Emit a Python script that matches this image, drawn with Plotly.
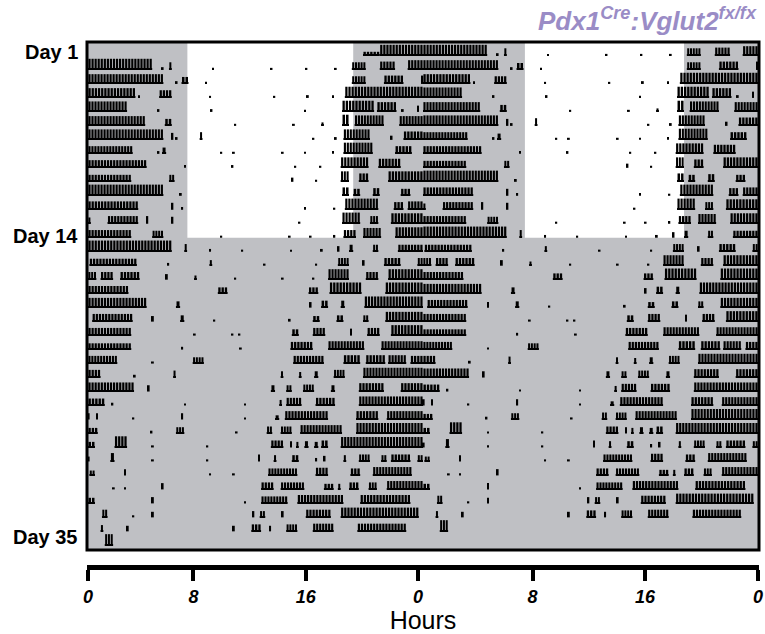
import plotly.graph_objects as go

# ---------------- data: activity bouts per day (start_h, end_h, relative height) ----------------
d01 = [(19.7,20.9,0.3),(20.9,24.0,0.8)]
d02 = [(0.0,4.6,0.8),(5.3,5.4,0.2),(5.8,6.0,0.55),(8.9,9.0,0.15),(13.1,13.2,0.15),(15.6,15.7,0.15),(17.7,17.8,0.15),(18.9,19.9,0.55),(20.9,22.0,0.6),(22.9,24.0,0.7)]
d03 = [(0.0,5.4,0.7),(6.3,6.4,0.2),(6.7,7.2,0.5),(8.4,8.5,0.15),(18.9,19.9,0.55),(21.2,22.6,0.6),(23.9,24.0,0.6)]
d04 = [(0.0,3.4,0.7),(3.6,3.7,0.2),(5.1,6.0,0.55),(8.7,8.8,0.15),(13.3,13.4,0.15),(15.7,15.8,0.2),(17.5,17.6,0.2),(18.4,24.0,0.8)]
d05 = [(0.0,2.8,0.75),(5.0,5.1,0.2),(8.8,8.9,0.2),(15.5,15.6,0.15),(18.2,20.5,0.8),(20.7,22.1,0.7),(22.5,22.6,0.2),(23.6,23.7,0.45)]
d06 = [(0.0,4.1,0.7),(5.5,6.0,0.5),(10.5,10.6,0.15),(14.7,14.8,0.15),(16.7,16.9,0.25),(18.2,18.7,0.8),(19.1,21.2,0.75),(22.3,24.0,0.7)]
d07 = [(0.0,5.4,0.75),(6.0,6.1,0.5),(6.3,6.4,0.2),(8.0,8.2,0.55),(16.1,16.2,0.15),(17.7,17.8,0.2),(18.3,20.2,0.75),(21.7,21.8,0.3),(22.6,24.0,0.6)]
d08 = [(0.0,3.2,0.55),(5.0,5.1,0.2),(5.3,5.6,0.45),(9.5,9.6,0.15),(10.4,10.5,0.15),(13.9,14.0,0.15),(15.5,15.6,0.15),(17.5,17.6,0.2),(18.3,20.4,0.8),(22.0,23.2,0.55)]
d09 = [(0.0,4.2,0.55),(6.9,7.0,0.2),(10.3,10.4,0.2),(14.8,14.9,0.15),(16.6,16.7,0.15),(18.1,20.1,0.75),(20.8,22.4,0.65)]
d10 = [(0.0,3.1,0.5),(5.8,6.2,0.5),(14.6,14.7,0.3),(16.3,16.4,0.15),(18.1,18.7,0.75),(19.4,20.1,0.6),(21.5,24.0,0.75)]
d11 = [(0.0,5.4,0.8),(6.6,6.7,0.2),(18.2,18.7,0.6),(19.0,19.5,0.5),(20.4,20.9,0.55),(22.4,23.1,0.5)]
d12 = [(0.0,3.6,0.6),(6.0,6.1,0.5),(6.7,6.8,0.2),(15.5,15.6,0.2),(17.6,17.7,0.15),(18.4,20.8,0.8),(21.9,22.6,0.55),(22.9,24.0,0.6)]
d13 = [(0.0,0.2,0.45),(1.4,3.6,0.55),(4.2,4.3,0.55),(6.0,6.1,0.5),(15.1,15.2,0.15),(18.2,19.5,0.8),(20.2,20.8,0.55),(21.7,24.0,0.75)]
d14 = [(0.0,3.1,0.55),(4.6,5.4,0.5),(9.5,9.6,0.15),(14.4,14.5,0.15),(15.9,16.0,0.15),(17.6,17.7,0.2),(18.3,19.2,0.55),(19.7,21.0,0.7),(22.0,24.0,0.75)]
d15 = [(0.0,6.0,0.8),(6.9,7.1,0.55),(8.7,8.8,0.2),(11.0,11.1,0.15),(14.5,14.6,0.15),(16.7,16.8,0.2),(17.9,18.0,0.4),(18.7,19.0,0.5),(20.4,20.8,0.5),(22.2,24.0,0.5)]
d16 = [(0.1,3.5,0.5),(5.7,5.8,0.2),(8.7,8.9,0.4),(12.6,12.7,0.15),(16.3,16.4,0.15),(17.9,18.7,0.55),(19.7,19.8,0.4),(21.2,22.4,0.55),(23.6,24.0,0.55)]
d17 = [(0.0,0.6,0.55),(0.9,1.8,0.55),(2.3,3.7,0.55),(5.6,5.7,0.4),(7.6,7.8,0.3),(10.5,10.6,0.15),(13.9,14.0,0.15),(16.1,16.2,0.15),(17.2,18.7,0.75),(19.9,20.8,0.55),(21.5,24.0,0.75)]
d18 = [(0.0,2.9,0.55),(9.3,10.0,0.45),(15.8,16.5,0.45),(17.3,19.6,0.8),(21.3,24.0,0.8)]
d19 = [(0.0,4.2,0.7),(6.3,6.6,0.45),(15.9,16.0,0.4),(16.7,17.2,0.5),(18.1,18.4,0.5),(19.8,24.0,0.8)]
d20 = [(0.3,3.2,0.55),(4.6,4.7,0.4),(6.6,6.9,0.45),(9.0,9.1,0.15),(14.4,14.5,0.2),(16.1,16.6,0.4),(17.8,18.3,0.45),(19.7,20.1,0.45),(21.3,24.0,0.7)]
d21 = [(0.0,3.1,0.55),(7.6,7.7,0.15),(10.3,10.4,0.15),(10.8,10.9,0.15),(14.6,15.1,0.45),(16.1,17.0,0.55),(18.8,18.9,0.5),(20.0,20.9,0.55),(21.7,24.0,0.75)]
d22 = [(0.0,3.1,0.45),(6.7,6.8,0.2),(10.9,11.0,0.15),(14.5,16.1,0.55),(17.2,19.8,0.6),(21.0,24.0,0.6)]
d23 = [(0.0,2.1,0.55),(4.6,4.7,0.15),(7.5,8.3,0.45),(14.7,16.9,0.55),(18.3,19.5,0.6),(19.9,21.3,0.6),(21.5,22.8,0.6),(23.1,24.0,0.55)]
d24 = [(0.0,0.9,0.55),(3.3,3.4,0.2),(6.1,6.3,0.5),(13.8,14.0,0.45),(15.1,15.3,0.4),(16.2,16.5,0.45),(17.6,18.4,0.55),(19.7,24.0,0.7)]
d25 = [(0.0,3.3,0.65),(4.3,4.4,0.45),(13.1,13.4,0.45),(14.2,14.6,0.45),(15.4,16.2,0.5),(17.4,17.7,0.45),(19.4,21.2,0.6),(22.4,24.0,0.6)]
d26 = [(0.0,1.2,0.5),(1.7,1.8,0.2),(6.9,7.0,0.15),(11.2,11.3,0.15),(13.7,13.9,0.4),(14.2,15.3,0.55),(16.3,17.7,0.55),(19.4,24.0,0.65)]
d27 = [(0.0,0.1,0.45),(0.6,0.7,0.45),(3.2,3.3,0.15),(6.7,6.8,0.45),(11.2,11.3,0.15),(13.4,13.7,0.3),(14.1,17.2,0.6),(19.2,20.8,0.6),(21.4,24.0,0.6)]
d28 = [(0.0,0.7,0.4),(4.5,4.6,0.2),(6.3,6.9,0.45),(10.6,10.7,0.15),(12.8,13.2,0.5),(13.8,14.6,0.5),(15.2,18.2,0.6),(19.2,24.0,0.75)]
d29 = [(0.0,0.5,0.4),(1.9,2.8,0.8),(4.6,4.7,0.15),(8.5,8.6,0.15),(13.1,14.0,0.5),(14.5,14.6,0.45),(14.9,15.1,0.4),(15.5,15.8,0.45),(16.2,16.5,0.4),(16.7,17.2,0.5),(18.1,24.0,0.75)]
d30 = [(0.0,0.1,0.35),(1.6,1.9,0.6),(4.6,4.7,0.15),(8.5,8.6,0.15),(12.2,12.3,0.5),(13.3,13.5,0.45),(14.6,15.1,0.45),(16.3,16.4,0.25),(16.9,17.0,0.4),(18.3,18.5,0.45),(19.4,20.2,0.5),(21.0,21.4,0.45),(21.7,23.1,0.5),(23.6,24.0,0.45)]
d31 = [(0.1,0.5,0.35),(2.6,2.7,0.45),(8.7,8.8,0.15),(10.4,10.5,0.15),(12.9,15.0,0.5),(16.3,17.2,0.55),(18.8,19.5,0.5),(20.4,23.2,0.6)]
d32 = [(1.8,1.9,0.15),(2.6,2.7,0.15),(5.3,5.4,0.45),(12.4,13.3,0.5),(13.8,15.5,0.5),(16.9,17.6,0.4),(17.9,18.1,0.4),(18.7,19.4,0.5),(20.1,20.7,0.5),(21.4,24.0,0.6)]
d33 = [(0.0,0.5,0.4),(4.6,4.7,0.45),(11.2,11.3,0.15),(12.4,14.3,0.5),(15.0,18.3,0.6),(19.5,23.1,0.6)]
d34 = [(1.0,1.4,0.55),(3.2,3.3,0.15),(4.6,4.7,0.4),(11.8,11.9,0.45),(12.3,12.7,0.45),(13.9,14.0,0.45),(15.6,17.4,0.55),(18.1,23.7,0.7)]
d35 = [(0.9,1.1,0.45),(2.8,2.9,0.4),(10.4,10.5,0.4),(11.7,12.4,0.5),(13.0,13.1,0.4),(14.2,15.0,0.5),(16.1,17.6,0.55),(19.3,22.8,0.55)]
d36 = [(1.2,1.8,0.8)]
d37 = []

days = [d01,d02,d03,d04,d05,d06,d07,d08,d09,d10,d11,d12,d13,d14,d15,d16,d17,d18,
        d19,d20,d21,d22,d23,d24,d25,d26,d27,d28,d29,d30,d31,d32,d33,d34,d35,d36,d37]

n_rows = 36
ld_rows = 14                      # rows recorded under light/dark cycle
light_phases = [(7.12, 19.0), (31.3, 42.7)]   # plotted hours shown white (lights on)
tick_vals = [0, 7.55, 15.6, 23.65, 31.85, 39.9, 48]   # where the scale bar's marks sit
tick_text = ["0", "8", "16", "0", "8", "16", "0"]
day_labels = ["Day 1", "Day 14", "Day 35"]
day_label_pos = [0.72, 13.85, 35.4]

# ---------------- build bars (double plotted, drawn as histogram bins) ----------------
BIN = 0.22          # hours per drawn bin
FILL = 0.72         # fraction of a bin that is inked
xs, ws, bases, hs = [], [], [], []
lx, lw, lb = [], [], []
for r in range(1, n_rows + 1):
    for offset, day in ((0, days[r - 1]), (24, days[r])):
        for s, e, h in day:
            dur = e - s
            if dur <= 0.15:
                xs.append(offset + (s + e) / 2.0); ws.append(0.13)
                bases.append(r); hs.append(-h)
                continue
            n = max(1, int(round(dur / BIN)))
            step = dur / n
            for k in range(n):
                xs.append(offset + s + (k + 0.5) * step)
                ws.append(step * FILL)
                bases.append(r); hs.append(-h)
            lx.append(offset + (s + e) / 2.0); lw.append(dur); lb.append(r)

fig = go.Figure()
fig.add_trace(go.Bar(x=xs, y=hs, base=bases, width=ws,
                     marker=dict(color="black", line=dict(width=0)),
                     hoverinfo="skip", showlegend=False))
fig.add_trace(go.Bar(x=lx, y=[-0.09] * len(lx), base=lb, width=lw,
                     marker=dict(color="black", line=dict(width=0)),
                     hoverinfo="skip", showlegend=False))

shapes = [dict(type="rect", xref="x domain", yref="y domain", x0=0, x1=1, y0=0, y1=1,
               fillcolor="#bfc0c4", line=dict(width=0), layer="below")]
for a, b in light_phases:
    shapes.append(dict(type="rect", xref="x", yref="y", x0=a, x1=b, y0=0, y1=ld_rows,
                       fillcolor="white", line=dict(width=0), layer="below"))
shapes.append(dict(type="rect", xref="x domain", yref="y domain", x0=0, x1=1, y0=0, y1=1,
                   fillcolor="rgba(0,0,0,0)", line=dict(color="black", width=3), layer="above"))

annotations = []
for t, yv in zip(day_labels, day_label_pos):
    annotations.append(dict(text=t, xref="paper", yref="y", x=-0.010, y=yv,
                            xanchor="right", yanchor="middle", showarrow=False,
                            font=dict(family="Liberation Sans, Arial", size=20,
                                      color="black", weight="bold")))
annotations.append(dict(text="<b><i>Pdx1<sup>Cre</sup>:Vglut2<sup>fx/fx</sup></i></b>",
                        xref="paper", yref="paper", x=1.0, y=1.043,
                        xanchor="right", yanchor="middle", showarrow=False,
                        font=dict(family="Liberation Sans, Arial", size=26, color="#9a8cc6")))

fig.update_layout(
    width=765, height=634,
    margin=dict(l=87, r=2, t=42, b=64),
    paper_bgcolor="white", plot_bgcolor="white",
    barmode="overlay",
    shapes=shapes, annotations=annotations,
    xaxis=dict(range=[-0.071, 48.071], anchor="free", position=0,
               showgrid=False, zeroline=False, showline=True, linecolor="black",
               linewidth=5, ticks="outside", ticklen=11, tickwidth=4, tickcolor="black",
               tickvals=tick_vals, ticktext=tick_text, ticklabeloverflow="allow",
               tickfont=dict(family="Liberation Sans, Arial", size=18, color="black",
                             weight="bold", style="italic"),
               title=dict(text="Hours", standoff=8,
                          font=dict(family="Liberation Sans, Arial", size=25, color="black"))),
    yaxis=dict(domain=[17 / 528, 1], range=[36.34, 0], visible=False),
)

fig.write_html("out.html")
